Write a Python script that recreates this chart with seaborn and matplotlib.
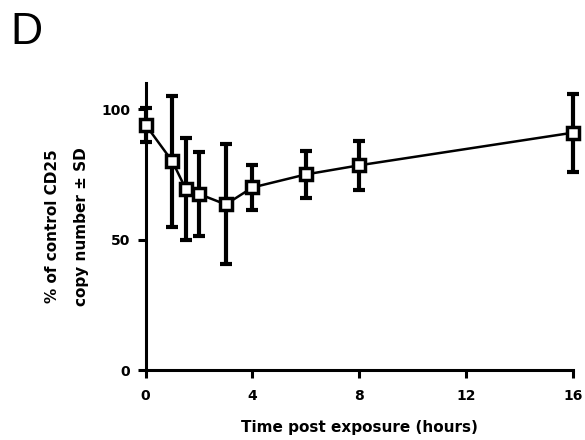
import matplotlib
matplotlib.use("Agg")
import matplotlib.pyplot as plt
import seaborn as sns
import pandas as pd

hours = [0, 1, 1.5, 2, 3, 4, 6, 8, 16]
pct_control = [94, 80, 69.5, 67.5, 63.5, 70, 75, 78.5, 91]
sd = [6.5, 25, 19.5, 16, 23, 8.5, 9, 9.5, 15]
x_ticks = [0, 4, 8, 12, 16]
y_ticks = [0, 50, 100]

sns.set_theme(style="ticks")
plt.rcParams['font.family'] = ['DejaVu Sans']
plt.rcParams['text.color'] = 'black'
plt.rcParams['axes.labelcolor'] = 'black'
plt.rcParams['xtick.color'] = 'black'
plt.rcParams['ytick.color'] = 'black'

df = pd.DataFrame({"hours": hours, "pct": pct_control, "sd": sd})

fig = plt.figure(figsize=(5.85, 4.4), dpi=100)
ax = fig.add_axes([0.249, 0.159, 0.730, 0.652])

ax.errorbar(df["hours"], df["pct"], yerr=df["sd"], fmt="none", ecolor="black",
            elinewidth=3, capsize=4.5, capthick=3, clip_on=False, zorder=2)
sns.lineplot(data=df, x="hours", y="pct", ax=ax, color="black", linewidth=1.8,
             marker="s", markersize=8.5, markerfacecolor="white",
             markeredgecolor="black", markeredgewidth=2.5, zorder=3, clip_on=False)

ax.set_xlim(0, 16)
ax.set_ylim(0, 110)
ax.set_xticks(x_ticks)
ax.set_yticks(y_ticks)
ax.set_xticklabels([str(t) for t in x_ticks], fontsize=10, fontweight="bold")
ax.set_yticklabels([str(t) for t in y_ticks], fontsize=10, fontweight="bold")
for s in ["top", "right"]:
    ax.spines[s].set_visible(False)
for s in ["left", "bottom"]:
    ax.spines[s].set_linewidth(2.2)
    ax.spines[s].set_color("black")
ax.tick_params(axis="x", width=2.2, length=6, color="black", pad=8)
ax.tick_params(axis="y", width=2.2, length=6, color="black", pad=5)

ax.set_xlabel("Time post exposure (hours)", fontsize=11, fontweight="bold", labelpad=12)
ax.set_ylabel("% of control CD25\ncopy number ± SD", fontsize=11, fontweight="bold",
              labelpad=9, linespacing=2.15)

fig.text(0.018, 0.972, "D", fontsize=32, va="top", ha="left",
         family=["Liberation Sans", "DejaVu Sans"])

fig.savefig("out.png", dpi=100)
